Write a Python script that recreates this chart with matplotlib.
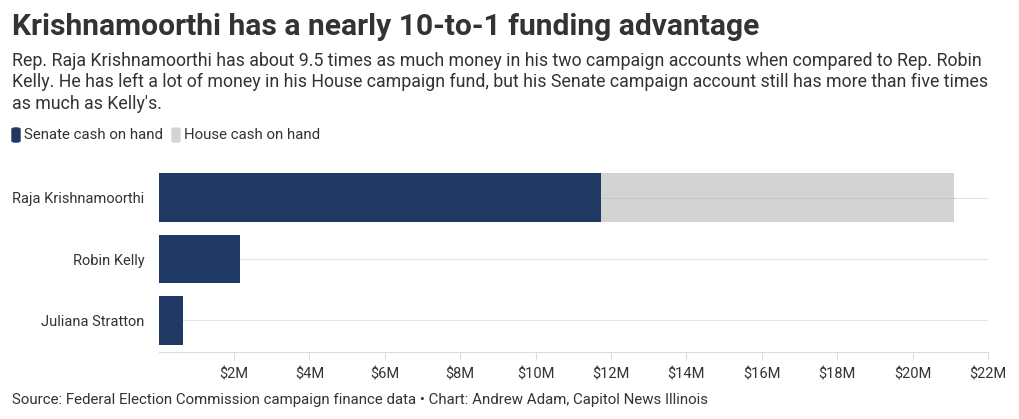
import matplotlib

matplotlib.use("Agg")

import matplotlib.pyplot as plt
from matplotlib.patches import FancyBboxPatch
import numpy as np

candidates = ["Raja Krishnamoorthi", "Robin Kelly", "Juliana Stratton"]
senate_cash = [11.73, 2.16, 0.65]  # $M
house_cash = [9.37, 0.0, 0.0]  # $M
xticks = [2, 4, 6, 8, 10, 12, 14, 16, 18, 20, 22]

NAVY = "#1f3864"
GRAY = "#d3d3d3"
TEXT = "#333333"

plt.rcParams["font.family"] = ["Roboto", "DejaVu Sans"]

W, H = 1020, 419
fig = plt.figure(figsize=(W / 100, H / 100), dpi=100)


def fx(px):
    return px / W


def fy(py):
    return 1 - py / H


ax = fig.add_axes([fx(158.6), fy(352), fx(988) - fx(158.6), fy(166) - fy(352)])

y = np.arange(len(candidates))
for yi in y:
    ax.axhline(yi, color="#e3e3e3", linewidth=0.8, zorder=1)
ax.barh(y, senate_cash, height=0.8, color=NAVY, zorder=2)
ax.barh(y, house_cash, left=senate_cash, height=0.8, color=GRAY, zorder=2)
# gridline shows faintly through the house bar
ax.plot([senate_cash[0], senate_cash[0] + house_cash[0]], [0, 0], color="#c6c6c6", linewidth=0.8, zorder=3)

ax.set_xlim(0, 22)
ax.set_ylim(len(candidates) - 0.48, -0.52)
ax.set_yticks(y)
ax.set_yticklabels(candidates, fontsize=10.5, color=TEXT)
ax.set_xticks(xticks)
ax.set_xticklabels([f"${v}M" for v in xticks], fontsize=10.5, color=TEXT)
ax.tick_params(axis="y", length=0, pad=10)
ax.tick_params(axis="x", length=6, color="#dddddd", pad=5)
for side in ["top", "right", "left"]:
    ax.spines[side].set_visible(False)
ax.spines["bottom"].set_color("#dddddd")

fig.text(fx(12), fy(27), "Krishnamoorthi has a nearly 10-to-1 funding advantage",
         fontsize=21.6, fontweight="bold", color=TEXT, va="center", ha="left")
subtitle = ("Rep. Raja Krishnamoorthi has about 9.5 times as much money in his two campaign accounts when compared to Rep. Robin\n"
            "Kelly. He has left a lot of money in his House campaign fund, but his Senate campaign account still has more than five times\n"
            "as much as Kelly's.")
fig.text(fx(12), fy(52), subtitle, fontsize=12.75, color=TEXT, va="top", ha="left", linespacing=1.24)

# legend
for x0, col, label in [(12, NAVY, "Senate cash on hand"), (172, GRAY, "House cash on hand")]:
    fig.patches.append(FancyBboxPatch((fx(x0), fy(142)), fx(8), fy(128) - fy(142),
                                      boxstyle="round,pad=0,rounding_size=0.003",
                                      transform=fig.transFigure, color=col, figure=fig))
    fig.text(fx(x0 + 12), fy(135), label, fontsize=10.8, color=TEXT, va="center", ha="left")

fig.text(fx(12), fy(400), "Source: Federal Election Commission campaign finance data \u2022 Chart: Andrew Adam, Capitol News Illinois",
         fontsize=10.8, color=TEXT, va="center", ha="left")

fig.savefig("out.png", dpi=100)
